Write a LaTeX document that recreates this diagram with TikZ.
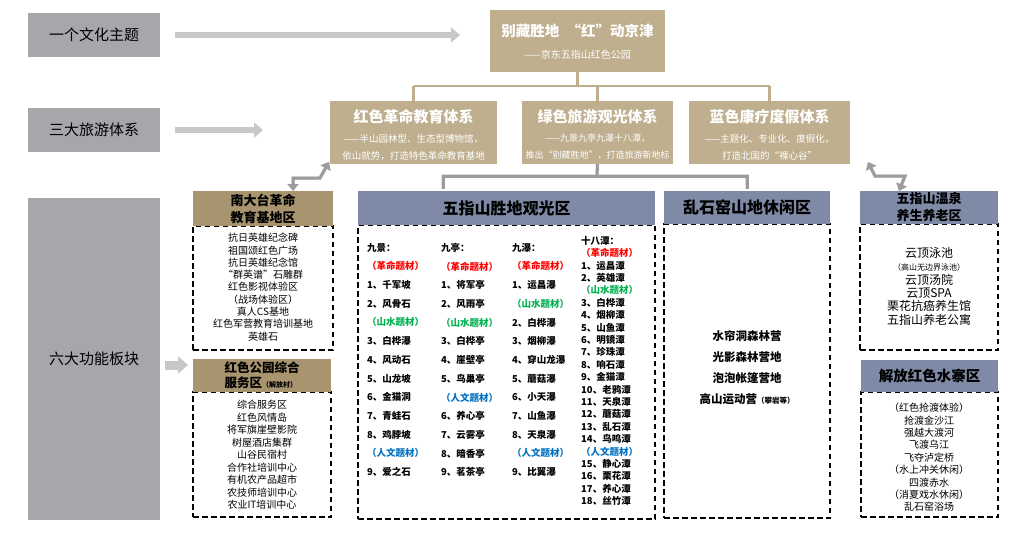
\documentclass[tikz,border=0pt]{standalone}
\usepackage{fontspec}
\setmainfont{Noto Sans CJK SC}
\usetikzlibrary{arrows.meta}
\definecolor{gboxc}{HTML}{A6A6AB}
\definecolor{tanA}{HTML}{BFAF8F}
\definecolor{tanH}{HTML}{A8946F}
\definecolor{blueH}{HTML}{7F8AA6}
\definecolor{arrowg}{HTML}{C8C8C8}
\definecolor{conng}{HTML}{9C9C9C}
\definecolor{shadg}{HTML}{DDDDDD}
\definecolor{tanL}{HTML}{BFAE8E}
\definecolor{redT}{HTML}{FF0000}
\definecolor{greenT}{HTML}{00B050}
\definecolor{blueT}{HTML}{0070C0}
\newcommand\fsz[2]{\fontsize{#1}{#2}\selectfont}
\newcommand\rT[1]{\textcolor{redT}{#1}}
\newcommand\gT[1]{\textcolor{greenT}{#1}}
\newcommand\bT[1]{\textcolor{blueT}{#1}}
\tikzset{
  boxnw/.style={anchor=north west, inner sep=0pt, outer sep=0pt},
  graybox/.style={boxnw, fill=gboxc, font=\fsz{15}{18}},
  tanbox/.style={boxnw, fill=tanA},
  hdrtan/.style={boxnw, fill=tanH, align=center, font=\bfseries\fsz{13}{17}},
  hdrblue/.style={boxnw, fill=blueH, align=center, font=\bfseries\fsz{13}{17}},
  dbody/.style={boxnw, draw=black, line width=1.5pt, dash pattern=on 5.5pt off 3.5pt},
  wtxt/.style={text=white, inner sep=0pt, align=center},
  btxt/.style={inner sep=0pt, anchor=north, align=center},
  coltxt/.style={inner sep=0pt, anchor=north west, align=left, font=\bfseries\fsz{9.5}{18.7}},
  bigarrow/.style={draw=arrowg, line width=6pt, -{Triangle[length=9pt,width=15pt]}},
  tanline/.style={draw=tanL, line width=2.5pt},
  gconn/.style={draw=conng, line width=3pt},
  gshadow/.style={draw=shadg, line width=3.5pt},
}
\begin{document}
\begin{tikzpicture}[x=1pt,y=-1pt]
\useasboundingbox (0,0) rectangle (1034,535);
% left gray boxes
\node[graybox, minimum width=132pt, minimum height=44pt] (theme) at (28,13) {一个文化主题};
\node[graybox, minimum width=132pt, minimum height=44pt] (sys) at (28,108) {三大旅游体系};
\node[graybox, minimum width=132pt, minimum height=322pt] (func) at (28,198) {六大功能板块};
% top box
\node[tanbox, minimum width=175pt, minimum height=62pt] (top) at (490,10) {};
\node[wtxt, font=\bfseries\fsz{14.5}{18}] (topT) at (577.5,31) {别藏胜地\enspace“红”动京津};
\node[wtxt, font=\fsz{10}{12}] (topS) at (577.5,55) {——京东五指山红色公园};
% three systems
\node[tanbox, minimum width=167pt, minimum height=63pt] (red) at (330,101) {};
\node[tanbox, minimum width=151pt, minimum height=63pt] (green) at (522,101) {};
\node[tanbox, minimum width=161pt, minimum height=63pt] (blue) at (689,101) {};
\node[wtxt, font=\bfseries\fsz{15}{18}] (redT) at (413.5,117) {红色革命教育体系};
\node[wtxt, font=\fsz{9.5}{17}] (redS) at (413.5,147) {——半山园林型、生态型博物馆，\\依山就势，打造特色革命教育基地};
\node[wtxt, font=\bfseries\fsz{15}{18}] (greenT) at (597.5,117) {绿色旅游观光体系};
\node[wtxt, font=\fsz{9}{17}] (greenS) at (597.5,147) {——九景九亭九瀑十八潭，\\推出“别藏胜地”，打造旅游新地标};
\node[wtxt, font=\bfseries\fsz{15}{18}] (blueT) at (769.5,117) {蓝色康疗度假体系};
\node[wtxt, font=\fsz{9.5}{17}] (blueS) at (769.5,147) {——主题化、专业化、度假化，\\打造北国的“裸心谷”};
% tan tree connector
\coordinate (tj) at (577.5,86);
\draw[tanline] (top.south) -- (tj);
\draw[tanline] (red.north |- tj) -- (blue.north |- tj);
\draw[tanline] (red.north |- tj) -- (red.north);
\draw[tanline] (green.north |- tj) -- (green.north);
\draw[tanline] (blue.north |- tj) -- (blue.north);
% big light arrows
\draw[bigarrow] ([xshift=15pt]theme.east) -- ([xshift=-30pt]top.west |- theme.east);
\draw[bigarrow] ([xshift=15pt]sys.east) -- ([xshift=-67pt]red.west |- sys.east);
\draw[bigarrow, line width=9pt, -{Triangle[length=10pt,width=17pt]}] (165,365) -- (188,365);
% ---- function blocks ----
% 南大台
\node[dbody, minimum width=140pt, minimum height=124pt] (nanB) at (193,226) {};
\node[hdrtan, minimum width=140pt, minimum height=35pt] (nanH) at (193,191) {南大台革命\\教育基地区};
\node[btxt, font=\fsz{10}{12.3}] (nanT) at (263,233) {抗日英雄纪念碑\\祖国颂红色广场\\抗日英雄纪念馆\\“群英谱”石雕群\\红色影视体验区\\（战场体验区）\\真人CS基地\\红色军营教育培训基地\\英雄石};
% 红色公园
\node[dbody, minimum width=138pt, minimum height=125pt] (parkB) at (193,392) {};
\node[hdrtan, minimum width=138pt, minimum height=33pt, align=left, font=\bfseries\fsz{12.5}{15}] (parkH) at (193,359) {红色公园综合\\服务区{\fsz{7}{8}（解放村）}};
\node[btxt, font=\fsz{10}{12.5}] (parkT) at (262,400) {综合服务区\\红色风情岛\\将军旗崖壁影院\\树屋酒店集群\\山谷民宿村\\合作社培训中心\\有机农产品超市\\农技师培训中心\\农业IT培训中心};
% 五指山
\node[dbody, minimum width=297pt, minimum height=294pt] (wzB) at (358,225) {};
\node[hdrblue, minimum width=297pt, minimum height=34pt, font=\bfseries\fsz{16}{18}] (wzH) at (358,191) {五指山胜地观光区};
\node[coltxt] (c1) at (367,243) {九景：\\\rT{（革命题材）}\\1、千军坡\\2、风骨石\\\gT{（山水题材）}\\3、白桦瀑\\4、风动石\\5、山龙坡\\6、金猫洞\\7、青蛙石\\8、鸡脖坡\\\bT{（人文题材）}\\9、爱之石};
\node[coltxt] (c2) at (441,243) {九亭：\\\rT{（革命题材）}\\1、将军亭\\2、风雨亭\\\gT{（山水题材）}\\3、白桦亭\\4、崖壁亭\\5、鸟巢亭\\\bT{（人文题材）}\\6、养心亭\\7、云雾亭\\8、暗香亭\\9、茗茶亭};
\node[coltxt] (c3) at (512,243) {九瀑：\\\rT{（革命题材）}\\1、运昌瀑\\\gT{（山水题材）}\\2、白桦瀑\\3、烟柳瀑\\4、穿山龙瀑\\5、蘑菇瀑\\6、小天瀑\\7、山鱼瀑\\8、天泉瀑\\\bT{（人文题材）}\\9、比翼瀑};
\node[coltxt, font=\bfseries\fsz{9.5}{12.4}] (c4) at (581,236) {十八潭：\\\rT{（革命题材）}\\1、运昌潭\\2、英雄潭\\\gT{（山水题材）}\\3、白桦潭\\4、烟柳潭\\5、山鱼潭\\6、明镜潭\\7、珍珠潭\\8、响石潭\\9、金猫潭\\10、老鸦潭\\11、天泉潭\\12、蘑菇潭\\13、乱石潭\\14、鸟鸣潭\\\bT{（人文题材）}\\15、静心潭\\16、栗花潭\\17、养心潭\\18、丝竹潭};
% 乱石窑
\node[dbody, minimum width=166pt, minimum height=294pt] (lsB) at (664,224) {};
\node[hdrblue, minimum width=166pt, minimum height=33pt, font=\bfseries\fsz{16}{18}] (lsH) at (664,191) {乱石窑山地休闲区};
\node[btxt, font=\bfseries\fsz{11.5}{21}] (lsT) at (747,330) {水帘洞森林营\\光影森林营地\\泡泡帐篷营地\\高山运动营{\fsz{7.5}{8}（攀岩等）}};
% 温泉
\node[dbody, minimum width=138pt, minimum height=126pt] (wqB) at (860,224) {};
\node[hdrblue, minimum width=138pt, minimum height=33pt] (wqH) at (860,191) {五指山温泉\\养生养老区};
\node[btxt, font=\fsz{12}{13.4}] (wqT) at (929,247) {云顶泳池\\{\fsz{8}{9}（高山无边界泳池）}\\云顶汤院\\云顶SPA\\栗花抗癌养生馆\\五指山养老公寓};
% 水寨
\node[dbody, minimum width=137pt, minimum height=125pt] (szB) at (861,392) {};
\node[hdrblue, minimum width=137pt, minimum height=32pt, font=\bfseries\fsz{14.5}{17}] (szH) at (861,360) {解放红色水寨区};
\node[btxt, font=\fsz{10}{12.4}] (szT) at (929,403) {（红色抢渡体验）\\抢渡金沙江\\强越大渡河\\飞渡乌江\\飞夺泸定桥\\（水上冲关休闲）\\四渡赤水\\（消夏戏水休闲）\\乱石窑浴场};
% ---- gray connectors ----
\coordinate (bj) at (597,176);
\coordinate (bl) at (443,189);
\coordinate (br) at (747,189);
\foreach \o/\s in {1.5/gshadow, 0/gconn}{
  \begin{scope}[shift={(\o,\o)}]
  \draw[\s] (green.south) -- (bj);
  \draw[\s] (bl) -- (bl |- bj) -- (br |- bj) -- (br);
  \end{scope}
}
\coordinate (lz1) at (293,178);
\coordinate (lz2) at (320,178);
\coordinate (rz1) at (875,176);
\coordinate (rz2) at (905,176);
\draw[gshadow, {Triangle[length=7pt,width=11pt]}-{Triangle[length=7pt,width=11pt]}, shift={(1.5,1.5)}] ([xshift=-1pt,yshift=2pt]red.south west) -- (lz2) -- (lz1) -- (lz1 |- nanH.north);
\draw[gconn, {Triangle[length=7pt,width=11pt]}-{Triangle[length=7pt,width=11pt]}] ([xshift=-1pt,yshift=2pt]red.south west) -- (lz2) -- (lz1) -- (lz1 |- nanH.north);
\draw[gshadow, {Triangle[length=7pt,width=11pt]}-{Triangle[length=7pt,width=11pt]}, shift={(1.5,1.5)}] ([xshift=18pt,yshift=2pt]blue.south east) -- (rz1) -- (rz2) -- ([xshift=-30pt]wqH.north);
\draw[gconn, {Triangle[length=7pt,width=11pt]}-{Triangle[length=7pt,width=11pt]}] ([xshift=18pt,yshift=2pt]blue.south east) -- (rz1) -- (rz2) -- ([xshift=-30pt]wqH.north);
\end{tikzpicture}
\end{document}
